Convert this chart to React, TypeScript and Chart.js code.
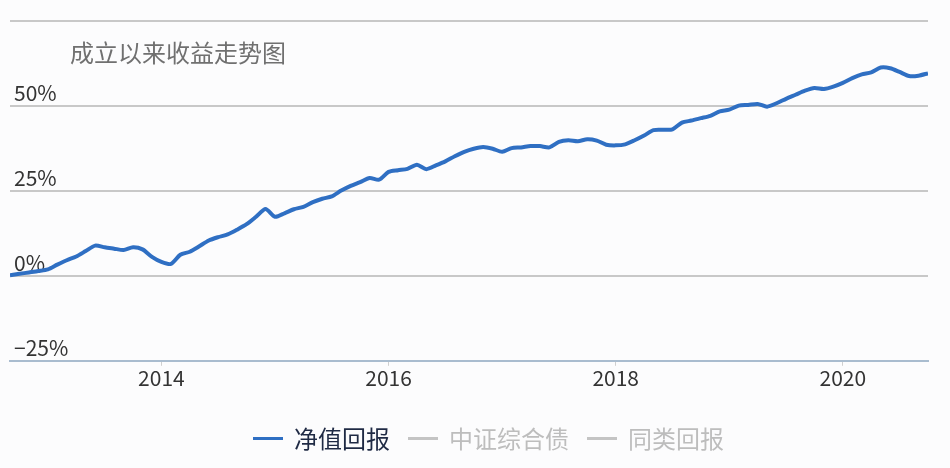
import React, { useEffect, useRef } from 'react';
import { Chart, registerables } from 'chart.js';
Chart.register(...registerables);

// monthly net value return (%), Sep 2012 .. Oct 2020
const START_YEAR = 2012;
const START_MONTH = 9;
const NAV_RETURN = [
  0.2, 0.6, 1.0, 1.4, 1.9, 3.3, 4.6, 5.7, 7.3, 8.9, 8.4, 8.0, 7.6, 8.4, 7.8, 5.6,
  4.1, 3.5, 6.2, 7.1, 8.7, 10.4, 11.4, 12.2, 13.6, 15.2, 17.4, 19.7, 17.4, 18.4, 19.6, 20.3,
  21.7, 22.7, 23.4, 25.1, 26.5, 27.6, 28.8, 28.3, 30.6, 31.1, 31.5, 32.7, 31.4, 32.5, 33.7, 35.2,
  36.5, 37.4, 37.9, 37.4, 36.5, 37.6, 37.8, 38.2, 38.2, 37.8, 39.4, 39.9, 39.6, 40.2, 39.8, 38.6,
  38.4, 38.7, 39.9, 41.3, 42.9, 43.0, 43.1, 45.1, 45.7, 46.4, 47.1, 48.4, 48.9, 50.1, 50.3, 50.6,
  49.8, 50.8, 52.1, 53.3, 54.5, 55.3, 55.0, 55.7, 56.8, 58.2, 59.3, 59.9, 61.3, 61.1, 60.0, 58.8,
  58.9, 59.6,
];
const YEAR_TICKS = [2014, 2016, 2018, 2020];
const PCT_TICKS = [-25, 0, 25, 50, 75];
const LEGEND_NAMES = ['净值回报', '中证综合债', '同类回报'];
const LEGEND_SWATCH = ['#2f6fc3', '#c4c4c4', '#c4c4c4'];
const LEGEND_TEXT = ['#1f2a44', '#bdbdbd', '#bdbdbd'];
const TITLE = '成立以来收益走势图';

const FONT = "'Noto Sans CJK SC', 'Noto Sans', sans-serif";

const App: React.FC = () => {
  const canvasRef = useRef<HTMLCanvasElement>(null);

  useEffect(() => {
    if (!canvasRef.current) return;
    const points = NAV_RETURN.map((v, i) => ({ x: START_YEAR + (START_MONTH - 1 + i) / 12, y: v }));
    const chart = new Chart(canvasRef.current, {
      type: 'line',
      data: {
        datasets: [
          { label: LEGEND_NAMES[0], data: points, borderColor: LEGEND_SWATCH[0], borderWidth: 4, pointRadius: 0, tension: 0.25 },
          { label: LEGEND_NAMES[1], data: [], borderColor: LEGEND_SWATCH[1], hidden: true },
          { label: LEGEND_NAMES[2], data: [], borderColor: LEGEND_SWATCH[2], hidden: true },
        ],
      },
      options: {
        animation: false,
        responsive: true,
        maintainAspectRatio: false,
        layout: { padding: { left: 2, right: 22, top: 21, bottom: 77 } },
        scales: {
          x: {
            type: 'linear',
            min: START_YEAR + (START_MONTH - 1) / 12,
            max: START_YEAR + (START_MONTH - 1 + NAV_RETURN.length - 1) / 12,
            afterBuildTicks: (scale: any) => { scale.ticks = YEAR_TICKS.map(v => ({ value: v })); },
            grid: { drawOnChartArea: false, drawTicks: true, tickLength: 5, color: '#cfcfcf', lineWidth: 1 },
            border: { display: true, color: '#a9bccf', width: 2 },
            ticks: { color: '#333', font: { family: FONT, size: 21 }, padding: 0, callback: (v: any) => String(v) },
          },
          y: {
            min: -25,
            max: 75,
            afterBuildTicks: (scale: any) => { scale.ticks = PCT_TICKS.map(v => ({ value: v })); },
            grid: {
              drawTicks: false,
              lineWidth: 2,
              color: (ctx: any) => (ctx.tick && ctx.tick.value === -25 ? 'rgba(0,0,0,0)' : '#c8c8c8'),
            },
            border: { display: false },
            ticks: {
              mirror: true,
              padding: 4,
              labelOffset: -13,
              color: '#333',
              font: { family: FONT, size: 21 },
              callback: (v: any) => (v === 75 ? '' : (v < 0 ? '−' + Math.abs(v) : String(v)) + '%'),
            },
          },
        },
        plugins: {
          title: { display: false },
          tooltip: { enabled: false },
          legend: { display: false },
        },
      },
    });
    return () => chart.destroy();
  }, []);

  return (
    <div style={{ position: 'fixed', left: 0, top: 0, width: 950, height: 468, background: '#fcfcfd' }}>
      <canvas ref={canvasRef}></canvas>
      <div
        style={{
          position: 'absolute',
          left: 70,
          top: 38,
          fontFamily: FONT,
          fontSize: 24,
          lineHeight: '28px',
          color: '#707070',
        }}
      >
        {TITLE}
      </div>
      <div
        style={{
          position: 'absolute',
          left: 253,
          top: 424,
          display: 'flex',
          alignItems: 'center',
          fontFamily: FONT,
          fontSize: 24,
          lineHeight: '28px',
        }}
      >
        {LEGEND_NAMES.map((name, i) => (
          <div key={name} style={{ display: 'flex', alignItems: 'center', marginRight: 18 }}>
            <span style={{ display: 'inline-block', width: 30, height: 3, background: LEGEND_SWATCH[i], marginRight: 11 }}></span>
            <span style={{ color: LEGEND_TEXT[i] }}>{name}</span>
          </div>
        ))}
      </div>
    </div>
  );
};

export default App;
